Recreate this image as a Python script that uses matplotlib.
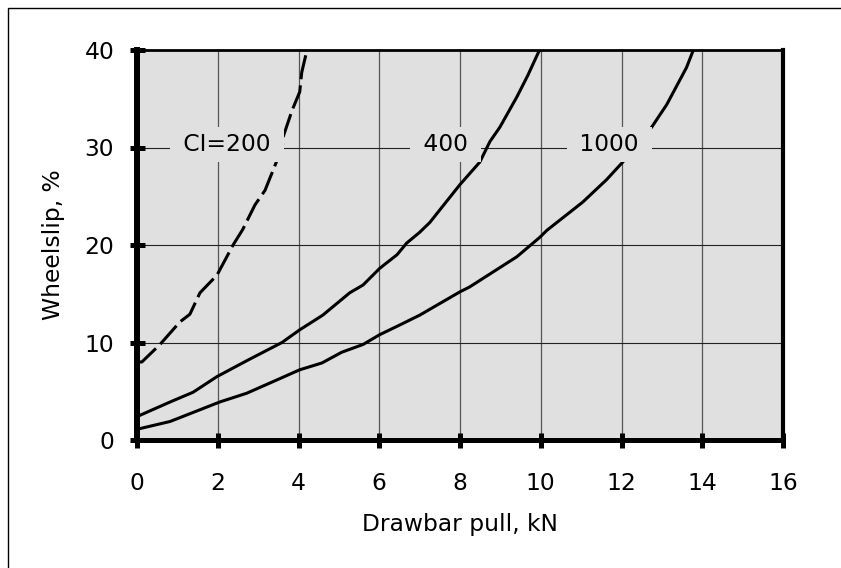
import matplotlib
matplotlib.use("Agg")
import matplotlib.pyplot as plt
from matplotlib.patches import Rectangle

# ---- data ----
ci200_x = [0.0, 0.12, 0.57, 1.06, 1.31, 1.56, 1.98, 2.38, 2.62, 2.92, 3.17, 3.47, 3.6, 3.62, 3.84, 4.03, 4.08, 4.21]
ci200_y = [8.0, 8.0, 9.8, 12.1, 12.9, 15.1, 16.9, 20.0, 21.6, 24.1, 25.6, 28.7, 30.0, 31.1, 33.8, 35.7, 37.7, 40.0]

ci400_x = [0.0, 0.82, 1.39, 1.98, 2.75, 3.59, 4.03, 4.6, 5.27, 5.6, 6.01, 6.44, 6.68, 7.0, 7.25, 8.0, 8.49, 8.74, 8.99, 9.41, 9.68, 9.97]
ci400_y = [2.4, 3.9, 4.9, 6.5, 8.2, 10.0, 11.3, 12.8, 15.1, 15.9, 17.6, 19.0, 20.2, 21.3, 22.3, 26.2, 28.5, 30.6, 32.1, 35.2, 37.4, 40.0]

ci1000_x = [0.0, 0.82, 2.05, 2.72, 3.54, 4.03, 4.58, 5.07, 5.6, 6.01, 6.51, 7.0, 8.0, 8.24, 9.41, 9.98, 10.15, 11.04, 11.63, 12.03, 12.4, 12.75, 13.12, 13.61, 13.78]
ci1000_y = [1.1, 1.9, 3.9, 4.8, 6.3, 7.2, 7.9, 9.0, 9.8, 10.8, 11.8, 12.8, 15.2, 15.7, 18.8, 20.8, 21.5, 24.4, 26.7, 28.5, 30.2, 32.1, 34.4, 38.2, 40.0]

curve_labels = ["CI=200", "400", "1000"]
label_x = [2.23, 7.65, 11.7]
label_y = [30.3, 30.3, 30.3]

x_ticks = [0, 2, 4, 6, 8, 10, 12, 14, 16]
y_ticks = [0, 10, 20, 30, 40]

# ---- styling ----
plt.rcParams['font.family'] = ['DejaVu Sans']
FS = 16.8
BG = '#e0e0e0'

fig = plt.figure(figsize=(8.41, 5.68), dpi=100)
ax = fig.add_axes([137/841, 1 - 440/568, 646/841, 390/568])
ax.set_facecolor(BG)

ax.set_xlim(0, 16)
ax.set_ylim(0, 40)
ax.set_xticks(x_ticks)
ax.set_yticks(y_ticks)
ax.set_xticklabels([str(t) for t in x_ticks], fontsize=FS)
ax.set_yticklabels([str(t) for t in y_ticks], fontsize=FS)

ax.tick_params(axis='both', direction='inout', length=10.8, width=3.6, color='black')
ax.tick_params(axis='x', pad=18)
ax.tick_params(axis='y', pad=11)

for xv in x_ticks[1:-1]:
    ax.axvline(xv, color='#555555', lw=0.9, zorder=1)
for yv in y_ticks[1:-1]:
    ax.axhline(yv, color='#222222', lw=0.8, zorder=1)

ax.spines['left'].set_linewidth(4.3)
ax.spines['bottom'].set_linewidth(3.6)
ax.spines['top'].set_linewidth(2.0)
ax.spines['right'].set_linewidth(3.0)
for s in ax.spines.values():
    s.set_zorder(5)

ax.plot(ci200_x, ci200_y, color='black', lw=2.2, linestyle=(0, (8, 2)), zorder=3, solid_joinstyle='round')
ax.plot(ci400_x, ci400_y, color='black', lw=2.2, zorder=3, solid_joinstyle='round')
ax.plot(ci1000_x, ci1000_y, color='black', lw=2.2, zorder=3, solid_joinstyle='round')

for lbl, lx, ly in zip(curve_labels, label_x, label_y):
    ax.text(lx, ly, " " + lbl + " ", fontsize=FS, ha='center', va='center', zorder=4,
            bbox=dict(boxstyle='square,pad=0.25', facecolor=BG, edgecolor='none'))

ax.set_xlabel("Drawbar pull, kN", fontsize=FS)
ax.set_ylabel("Wheelslip, %", fontsize=FS)
ax.xaxis.set_label_coords(0.5, -0.187)
ax.yaxis.set_label_coords(-0.111, 0.5)

# figure border (left and top edges visible)
fig.patches.append(Rectangle((7.5/841, -0.5), 2.0, 1.5 - 7.5/568, transform=fig.transFigure,
                             fill=False, edgecolor='black', lw=1.0))

fig.savefig("out.png", dpi=100)
